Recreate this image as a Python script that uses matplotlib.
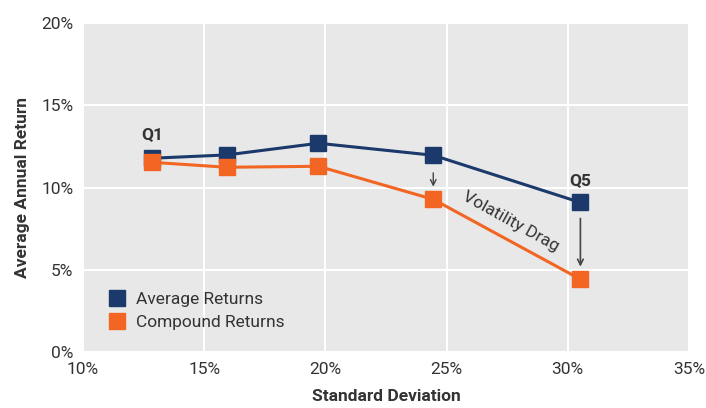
import matplotlib.pyplot as plt
from matplotlib.ticker import PercentFormatter

# values (in %)
std_dev = [12.86, 15.93, 19.71, 24.45, 30.52]
avg_returns = [11.78, 11.98, 12.69, 11.96, 9.09]
compound_returns = [11.53, 11.23, 11.29, 9.28, 4.42]
x_ticks = [10, 15, 20, 25, 30, 35]
y_ticks = [0, 5, 10, 15, 20]

navy = '#1b3a6b'
orange = '#f26522'
text_col = '#333333'

plt.rcParams['font.family'] = ['Roboto', 'DejaVu Sans']

fig = plt.figure(figsize=(7.06, 4.08), dpi=100)
ax = fig.add_axes([83 / 706, 1 - 352 / 408, 606 / 706, 329 / 408])
ax.set_facecolor('#e8e8e8')

ax.plot(std_dev, avg_returns, color=navy, lw=2.2, marker='s', ms=11,
        label='Average Returns', zorder=3)
ax.plot(std_dev, compound_returns, color=orange, lw=2.2, marker='s', ms=11,
        label='Compound Returns', zorder=4)

ax.set_xlim(x_ticks[0], x_ticks[-1])
ax.set_ylim(y_ticks[0], y_ticks[-1])
ax.set_xticks(x_ticks)
ax.set_yticks(y_ticks)
ax.xaxis.set_major_formatter(PercentFormatter(decimals=0))
ax.yaxis.set_major_formatter(PercentFormatter(decimals=0))
ax.grid(color='white', lw=1.5)
ax.set_axisbelow(True)
for s in ax.spines.values():
    s.set_visible(False)
ax.tick_params(length=0, labelsize=12.5, colors=text_col, pad=7)

ax.set_xlabel('Standard Deviation', fontsize=12.5, fontweight='bold',
              color=text_col, labelpad=9)
ax.set_ylabel('Average Annual Return', fontsize=12.5, fontweight='bold',
              color=text_col, labelpad=8)

# quintile labels
ax.text(std_dev[0], 13.2, 'Q1', ha='center', va='center', fontsize=12.5,
        fontweight='bold', color=text_col)
ax.text(std_dev[-1], 10.45, 'Q5', ha='center', va='center', fontsize=12.5,
        fontweight='bold', color=text_col)

# drag arrows
ax.annotate('', xy=(std_dev[3], compound_returns[3] + 0.6),
            xytext=(std_dev[3], avg_returns[3] - 0.9),
            arrowprops=dict(arrowstyle='->', color='#444444', lw=1))
ax.annotate('', xy=(std_dev[4], compound_returns[4] + 0.6),
            xytext=(std_dev[4], avg_returns[4] - 0.8),
            arrowprops=dict(arrowstyle='->', color='#444444', lw=1.2))
ax.text(27.65, 7.9, 'Volatility Drag', rotation=-29, rotation_mode='anchor',
        ha='center', va='center', fontsize=12.5, color=text_col)

leg = ax.legend(loc='lower left', bbox_to_anchor=(0.03, 0.045), frameon=False,
                fontsize=12.5, handlelength=1, handletextpad=0.6,
                labelspacing=0.45, borderaxespad=0)
for h in leg.legend_handles:
    h.set_linestyle('')
for t in leg.get_texts():
    t.set_color(text_col)

fig.savefig('out.png', dpi=100)
